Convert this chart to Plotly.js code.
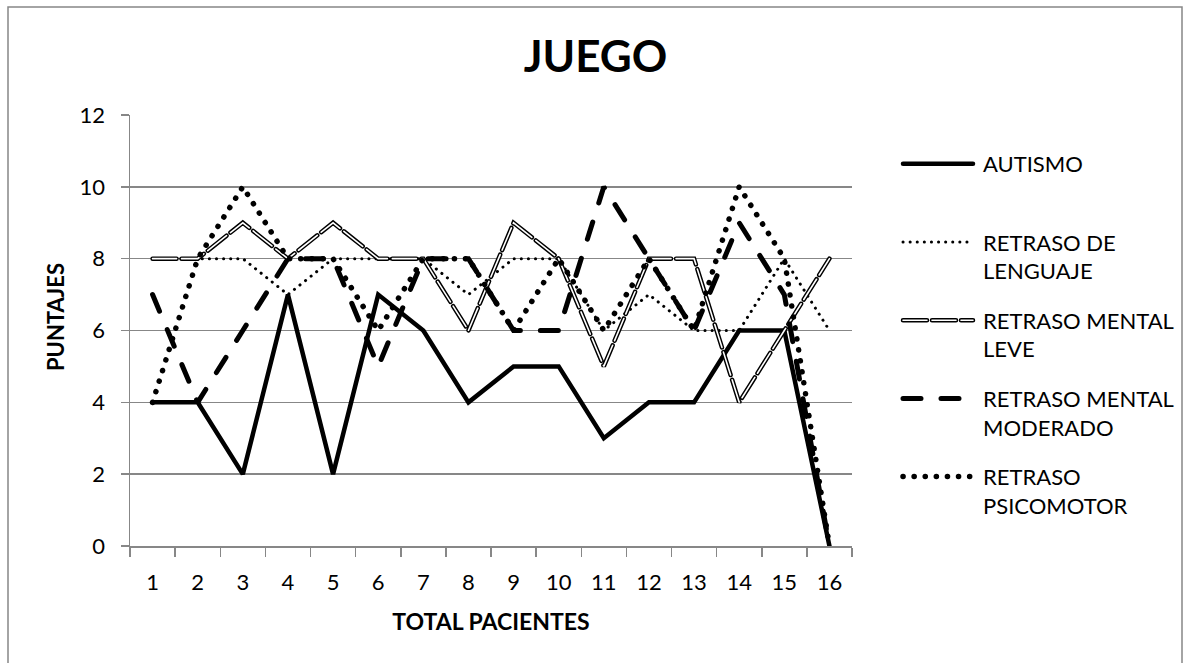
<!DOCTYPE html>
<html>
<head>
<meta charset="utf-8">
<script src="https://cdn.plot.ly/plotly-3.0.1.min.js"></script>
<style>
  html, body { margin: 0; padding: 0; background: #fff; }
  #chart { width: 1191px; height: 663px; }
  .scatterlayer .js-line, .legendlines path { stroke-linecap: round; }
</style>
</head>
<body>
<div id="chart"></div>
<script>
// ---- data ----
const categories = ["1","2","3","4","5","6","7","8","9","10","11","12","13","14","15","16"];
const autismo    = [4,4,2,7,2,7,6,4,5,5,3,4,4,6,6,0];
const lenguaje   = [8,8,8,7,8,8,8,7,8,8,6,7,6,6,8,6];
const leve       = [8,8,9,8,9,8,8,6,9,8,5,8,8,4,6,8];
const moderado   = [7,4,6,8,8,5,8,8,6,6,10,8,6,9,7,0];
const psicomotor = [4,8,10,8,8,6,8,8,6,8,6,8,6,10,8,0];
const seriesNames = ["AUTISMO","RETRASO DE<br>LENGUAJE","RETRASO MENTAL<br>LEVE","RETRASO MENTAL<br>MODERADO","RETRASO<br>PSICOMOTOR"];
const yTicks = [0,2,4,6,8,10,12];

const xs = categories.map((c, i) => i + 1);

const traces = [
  {x: xs, y: autismo, name: seriesNames[0] + "<br> ", legendgroup: "a", mode: "lines",
   line: {color: "#000", width: 4.5}},
  {x: xs, y: lenguaje, name: seriesNames[1], legendgroup: "b", mode: "lines",
   line: {color: "#000", width: 3, dash: "0.1px,7px"}},
  {x: xs, y: leve, name: seriesNames[2], legendgroup: "c", mode: "lines",
   line: {color: "#000", width: 4.5, dash: "24px,5px"}},
  {x: xs, y: leve, name: "leve-inner", legendgroup: "c", showlegend: false, mode: "lines",
   line: {color: "#fff", width: 1.6, dash: "24px,5px"}},
  {x: xs, y: moderado, name: seriesNames[3], legendgroup: "d", mode: "lines",
   line: {color: "#000", width: 5, dash: "18px,20px"}},
  {x: xs, y: psicomotor, name: seriesNames[4], legendgroup: "e", mode: "lines",
   line: {color: "#000", width: 5.5, dash: "0.1px,11px"}}
];

const L = 130, R = 339, T = 115, B = 117;
const pw = 1191 - L - R, ph = 663 - T - B;
const px = v => (v - L) / pw;
const py = v => (663 - B - v) / ph;

const layout = {
  width: 1191, height: 663,
  margin: {l: L, r: R, t: T, b: B, pad: 0},
  paper_bgcolor: "#fff", plot_bgcolor: "#fff",
  font: {family: "Lato, 'Open Sans', sans-serif", color: "#000", size: 22},
  title: {text: "<b>JUEGO</b>", font: {size: 44, family: "Lato, sans-serif", color: "#000"},
          x: 0.5, xref: "container", y: 1 - 57/663, yref: "container", yanchor: "middle"},
  showlegend: true,
  legend: {x: px(898), xanchor: "left", y: py(143), yanchor: "top",
           font: {size: 22, family: "Lato, sans-serif", color: "#000"},
           valign: "top", tracegroupgap: 18, itemwidth: 75,
           bgcolor: "rgba(0,0,0,0)", traceorder: "grouped"},
  xaxis: {
    range: [0.5, 16.5], tickvals: xs, ticktext: categories,
    ticks: "", showgrid: false, zeroline: false,
    showline: true, linecolor: "#878787", linewidth: 1.5,
    ticklabelstandoff: 16,
    minor: {tick0: 0.5, dtick: 1, ticks: "outside", ticklen: 9, tickcolor: "#878787", tickwidth: 1.5, showgrid: false},
    title: {text: "<b>TOTAL PACIENTES</b>", font: {size: 23}, standoff: 20},
    fixedrange: true
  },
  yaxis: {
    range: [0, 12], tickvals: yTicks, ticktext: yTicks.map(String),
    ticks: "outside", ticklen: 8, tickcolor: "#878787", tickwidth: 1.5,
    showgrid: true, gridcolor: "#878787", gridwidth: 1.5,
    zeroline: false, showline: true, linecolor: "#878787", linewidth: 1.5,
    ticklabelstandoff: 11,
    fixedrange: true
  },
  annotations: [{text: "<b>PUNTAJES</b>", xref: "paper", yref: "paper",
                 x: px(55), y: py(317), xanchor: "center", yanchor: "middle",
                 textangle: -90, showarrow: false, font: {size: 22, color: "#000"}}],
  shapes: [{type: "rect", xref: "paper", yref: "paper",
            x0: px(8), x1: px(1182), y0: py(672), y1: py(7),
            line: {color: "#878787", width: 1.5}, fillcolor: "rgba(0,0,0,0)", layer: "below"}]
};

Plotly.newPlot("chart", traces, layout, {displayModeBar: false, staticPlot: true}).then(gd => {
  const items = document.querySelectorAll(".legend .traces");
  items.forEach((it, i) => {
    const p = it.querySelector(".legendlines path");
    if (!p) return;
    p.setAttribute("d", "M5,0h70");
    if (i === 2) {
      const c = p.cloneNode(true);
      c.style.stroke = "#fff";
      c.style.strokeWidth = "1.6px";
      p.parentNode.appendChild(c);
    }
  });
});
</script>
</body>
</html>
